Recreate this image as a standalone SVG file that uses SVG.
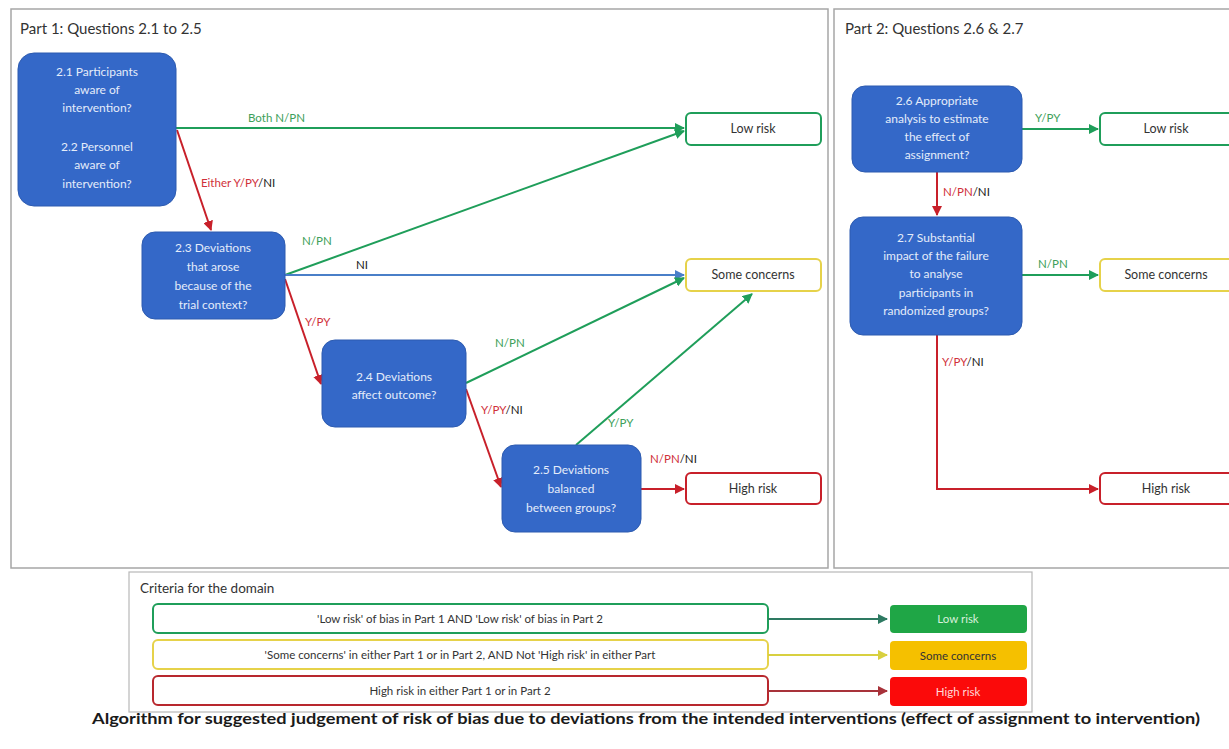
<svg xmlns="http://www.w3.org/2000/svg" width="1229" height="749" viewBox="0 0 1229 749">
  <style>
    .panel { fill: #ffffff; stroke: #a6a6a6; stroke-width: 1.5; }
    .title { font-family: Lato, "Liberation Sans", sans-serif; font-size: 15px; fill: #333333; }
    .q { fill: #3468c8; stroke: #2d5bb0; stroke-width: 1; }
    .qt { font-family: Lato, "Liberation Sans", sans-serif; font-size: 12px; fill: #e4ecfa; text-anchor: middle; }
    .res { fill: #ffffff; stroke-width: 2; }
    .rt { font-family: Lato, "Liberation Sans", sans-serif; font-size: 12.5px; fill: #333333; text-anchor: middle; }
    .g { stroke: #1f9e5a; }
    .y { stroke: #e6d24a; }
    .r { stroke: #c8202a; }
    .lbl { font-family: Lato, "Liberation Sans", sans-serif; font-size: 11.5px; }
    .lg { fill: #3ea05a; }
    .lr { fill: #d0303a; }
    .lk { fill: #222222; }
    .edge { fill: none; stroke-width: 2; }
    .crit { fill: #ffffff; stroke-width: 2; }
    .ct { font-family: Lato, "Liberation Sans", sans-serif; font-size: 11.5px; fill: #333333; text-anchor: middle; }
  </style>
  <defs>
    <marker id="ag" viewBox="0 0 10 10" refX="9" refY="5" markerWidth="5" markerHeight="5" orient="auto"><path d="M0,0 L10,5 L0,10 z" fill="#1f9e5a"/></marker>
    <marker id="ar" viewBox="0 0 10 10" refX="9" refY="5" markerWidth="5" markerHeight="5" orient="auto"><path d="M0,0 L10,5 L0,10 z" fill="#c8202a"/></marker>
    <marker id="ab" viewBox="0 0 10 10" refX="9" refY="5" markerWidth="5" markerHeight="5" orient="auto"><path d="M0,0 L10,5 L0,10 z" fill="#4a7fc8"/></marker>
    <marker id="ay" viewBox="0 0 10 10" refX="9" refY="5" markerWidth="5" markerHeight="5" orient="auto"><path d="M0,0 L10,5 L0,10 z" fill="#d8d040"/></marker>
    <marker id="at" viewBox="0 0 10 10" refX="9" refY="5" markerWidth="5" markerHeight="5" orient="auto"><path d="M0,0 L10,5 L0,10 z" fill="#2e7a62"/></marker>
    <marker id="ad" viewBox="0 0 10 10" refX="9" refY="5" markerWidth="5" markerHeight="5" orient="auto"><path d="M0,0 L10,5 L0,10 z" fill="#a8323a"/></marker>
  </defs>

  <rect width="1229" height="749" fill="#ffffff"/>

  <!-- panels -->
  <rect class="panel" x="11" y="9" width="817" height="559"/>
  <rect class="panel" x="834" y="9" width="400" height="559"/>
  <text class="title" x="20" y="34">Part 1: Questions 2.1 to 2.5</text>
  <text class="title" x="845" y="34">Part 2: Questions 2.6 &amp; 2.7</text>

  <!-- connectors -->
  <g id="connectors">
    <line class="edge g" x1="176" y1="128" x2="684" y2="128" marker-end="url(#ag)"/>
    <line class="edge r" x1="177" y1="130" x2="211" y2="230" marker-end="url(#ar)"/>
    <line class="edge g" x1="285" y1="275" x2="684" y2="131" marker-end="url(#ag)"/>
    <line class="edge" stroke="#4a7fc8" x1="285" y1="275" x2="684" y2="275" marker-end="url(#ab)"/>
    <line class="edge r" x1="285" y1="279" x2="321" y2="384" marker-end="url(#ar)"/>
    <line class="edge g" x1="466" y1="383" x2="684" y2="278" marker-end="url(#ag)"/>
    <line class="edge r" x1="466" y1="389" x2="501" y2="487" marker-end="url(#ar)"/>
    <line class="edge g" x1="576" y1="445" x2="752" y2="294" marker-end="url(#ag)"/>
    <line class="edge r" x1="641" y1="489" x2="684" y2="489" marker-end="url(#ar)"/>
    <line class="edge g" x1="1022" y1="129" x2="1098" y2="129" marker-end="url(#ag)"/>
    <line class="edge r" x1="937" y1="172" x2="937" y2="215" marker-end="url(#ar)"/>
    <line class="edge g" x1="1022" y1="275" x2="1098" y2="275" marker-end="url(#ag)"/>
    <polyline class="edge r" points="937,335 937,489 1098,489" marker-end="url(#ar)"/>

    <text class="lbl lg" x="248" y="122">Both N/PN</text>
    <text class="lbl" x="201" y="187"><tspan class="lr">Either Y/PY</tspan><tspan class="lk">/NI</tspan></text>
    <text class="lbl lg" x="302" y="245">N/PN</text>
    <text class="lbl lk" x="356" y="269">NI</text>
    <text class="lbl lr" x="305" y="326">Y/PY</text>
    <text class="lbl lg" x="495" y="347">N/PN</text>
    <text class="lbl" x="481" y="414"><tspan class="lr">Y/PY</tspan><tspan class="lk">/NI</tspan></text>
    <text class="lbl lg" x="608" y="427">Y/PY</text>
    <text class="lbl" x="650" y="463"><tspan class="lr">N/PN</tspan><tspan class="lk">/NI</tspan></text>
    <text class="lbl lg" x="1035" y="122">Y/PY</text>
    <text class="lbl" x="943" y="196"><tspan class="lr">N/PN</tspan><tspan class="lk">/NI</tspan></text>
    <text class="lbl lg" x="1038" y="268">N/PN</text>
    <text class="lbl" x="942" y="366"><tspan class="lr">Y/PY</tspan><tspan class="lk">/NI</tspan></text>
  </g>

  <!-- question nodes -->
  <g id="q21">
    <rect class="q" x="18" y="53" width="158" height="153" rx="16"/>
    <text class="qt" x="97" y="76">2.1 Participants</text>
    <text class="qt" x="97" y="94">aware of</text>
    <text class="qt" x="97" y="112">intervention?</text>
    <text class="qt" x="97" y="151">2.2 Personnel</text>
    <text class="qt" x="97" y="169">aware of</text>
    <text class="qt" x="97" y="188">intervention?</text>
  </g>
  <g id="q23">
    <rect class="q" x="142" y="232" width="143" height="87" rx="13"/>
    <text class="qt" x="213" y="252">2.3 Deviations</text>
    <text class="qt" x="213" y="271">that arose</text>
    <text class="qt" x="213" y="290">because of  the</text>
    <text class="qt" x="213" y="309">trial context?</text>
  </g>
  <g id="q24">
    <rect class="q" x="322" y="340" width="144" height="87" rx="13"/>
    <text class="qt" x="394" y="381">2.4 Deviations</text>
    <text class="qt" x="394" y="399">affect outcome?</text>
  </g>
  <g id="q25">
    <rect class="q" x="502" y="445" width="139" height="87" rx="13"/>
    <text class="qt" x="571" y="474">2.5 Deviations</text>
    <text class="qt" x="571" y="493">balanced</text>
    <text class="qt" x="571" y="512">between groups?</text>
  </g>
  <g id="q26">
    <rect class="q" x="852" y="86" width="170" height="86" rx="13"/>
    <text class="qt" x="937" y="105">2.6 Appropriate</text>
    <text class="qt" x="937" y="123">analysis to estimate</text>
    <text class="qt" x="937" y="141">the effect of</text>
    <text class="qt" x="937" y="159">assignment?</text>
  </g>
  <g id="q27">
    <rect class="q" x="850" y="217" width="172" height="118" rx="13"/>
    <text class="qt" x="936" y="242">2.7 Substantial</text>
    <text class="qt" x="936" y="260">impact of the failure</text>
    <text class="qt" x="936" y="278">to analyse</text>
    <text class="qt" x="936" y="297">participants in</text>
    <text class="qt" x="936" y="315">randomized groups?</text>
  </g>

  <!-- result nodes -->
  <g id="p1-low"><rect class="res g" x="686" y="113" width="135" height="32" rx="5"/><text class="rt" x="753" y="133">Low risk</text></g>
  <g id="p1-some"><rect class="res y" x="686" y="259" width="135" height="32" rx="5"/><text class="rt" x="753" y="279">Some concerns</text></g>
  <g id="p1-high"><rect class="res r" x="686" y="473" width="135" height="31" rx="5"/><text class="rt" x="753" y="493">High risk</text></g>
  <g id="p2-low"><rect class="res g" x="1100" y="113" width="140" height="32" rx="5"/><text class="rt" x="1166" y="133">Low risk</text></g>
  <g id="p2-some"><rect class="res y" x="1100" y="259" width="140" height="32" rx="5"/><text class="rt" x="1166" y="279">Some concerns</text></g>
  <g id="p2-high"><rect class="res r" x="1100" y="473" width="140" height="31" rx="5"/><text class="rt" x="1166" y="493">High risk</text></g>

  <!-- criteria for the domain -->
  <g id="criteria">
    <rect x="129" y="572" width="903" height="140" fill="#ffffff" stroke="#b8b8b8" stroke-width="1.2"/>
    <text class="title" x="140" y="593" font-size="13" style="font-size:13.5px">Criteria for the domain</text>

    <rect class="crit" x="153" y="604" width="615" height="29" rx="5" stroke="#1f9e5a"/>
    <text class="ct" x="460" y="623">'Low risk' of bias in Part 1 AND 'Low risk' of bias in Part 2</text>
    <rect class="crit" x="153" y="640" width="615" height="29" rx="5" stroke="#e6d24a"/>
    <text class="ct" x="460" y="659">'Some concerns' in either Part 1 or in Part 2, AND Not 'High risk' in either Part</text>
    <rect class="crit" x="153" y="676" width="615" height="29" rx="5" stroke="#b8282e"/>
    <text class="ct" x="460" y="695">High risk  in either Part 1 or in Part 2</text>

    <line x1="768" y1="619" x2="887" y2="619" stroke="#2e7a62" stroke-width="2" marker-end="url(#at)"/>
    <line x1="768" y1="655" x2="887" y2="655" stroke="#d8d040" stroke-width="2" marker-end="url(#ay)"/>
    <line x1="768" y1="691" x2="887" y2="691" stroke="#a8323a" stroke-width="2" marker-end="url(#ad)"/>

    <rect x="890" y="605" width="137" height="28" rx="4" fill="#1fa646"/>
    <text class="ct" x="958" y="623" style="fill:#d8f0dc">Low risk</text>
    <rect x="890" y="641" width="137" height="29" rx="4" fill="#f5c000"/>
    <text class="ct" x="958" y="660">Some concerns</text>
    <rect x="890" y="677" width="137" height="29" rx="4" fill="#fb0a0a"/>
    <text class="ct" x="958" y="696" style="fill:#ffd8d8">High risk</text>
  </g>

  <text x="92" y="724" font-family="Lato, 'Liberation Sans', sans-serif" font-size="15.5" font-weight="bold" fill="#1a1a1a" textLength="1108" lengthAdjust="spacingAndGlyphs">Algorithm for suggested judgement of risk of bias due to deviations from the intended interventions (effect of assignment to intervention)</text>
</svg>
